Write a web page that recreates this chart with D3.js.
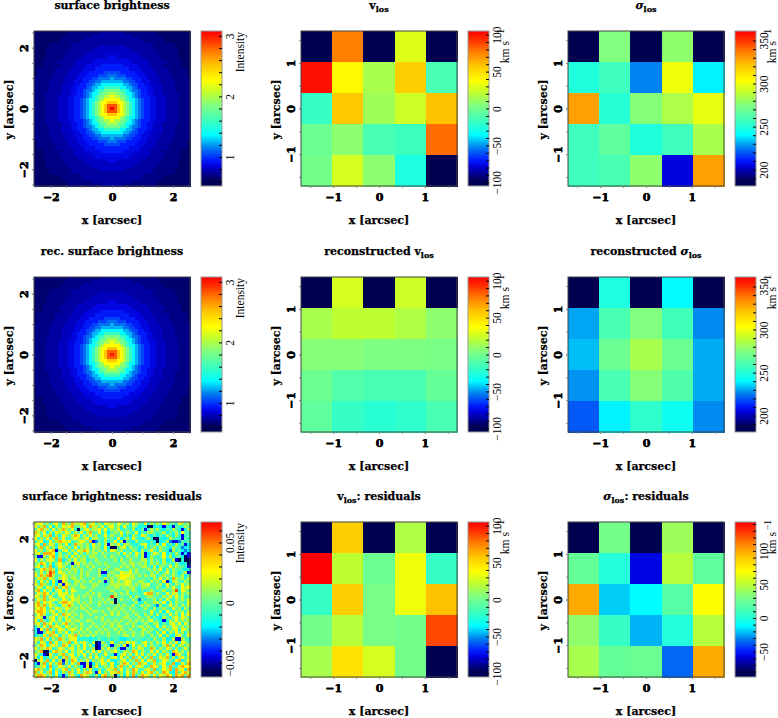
<!DOCTYPE html>
<meta charset="utf-8">
<style>
    body { margin: 0; background: #fff; }
    text { fill: #000; }
    .bold text, text.bold { font: bold 11px "DejaVu Serif"; stroke: #000; stroke-width: 0.25px; }
    .cbar text, text.cb { font: 11.5px "Liberation Serif"; }
</style>

<body>
    <script src="https://d3js.org/d3.v7.min.js"></script>
    <script>
        // 5x5 kinematic maps, top row first. null = no data, drawn in the lowest colour
        var vlos = [
            [null, 76, null, 29, null],
            [101, 40, 15, 55, -13],
            [-19, 57, 13, 25, 59],
            [-2, 8, -13, -17, 80],
            [0, 27, 8, -27, null]
        ]
        var sigma = [
            [null, 275, null, 278, null],
            [249, 257, 226, 300, 239],
            [329, 251, 276, 285, 298],
            [257, 266, 249, 257, 284],
            [257, 260, 278, 205, 329]
        ]
        var recVlos = [
            [null, 27, null, 25, null],
            [15, 21, 21, 17, 8],
            [6, 6, 4, 4, 2],
            [-2, -10, -13, -13, -4],
            [-6, -19, -23, -21, -13]
        ]
        var recSigma = [
            [null, 248, null, 240, null],
            [230, 260, 275, 258, 227],
            [233, 269, 284, 269, 231],
            [228, 260, 276, 262, 231],
            [220, 239, 253, 244, 227]
        ]
        var resVlos = [
            [null, 55, null, 17, null],
            [105, 21, -2, 34, -19],
            [-19, 55, 2, 34, 59],
            [0, 19, 2, 0, 88],
            [15, 48, 27, 0, null]
        ]
        var resSigma = [
            [null, 28, null, 41, null],
            [23, 0, -56, 48, 21],
            [99, -19, -12, 18, 69],
            [37, 7, -23, 0, 48],
            [44, 23, 25, -35, 99]
        ]

        // surface brightness, one quadrant (distance from centre row / column)
        var sbCodes = "abcdefghijklmnopq"
        var sbLevels = [3.08, 2.85, 2.5, 2.25, 2.0, 1.8, 1.58, 1.36, 1.24, 1.13, 1.04, 0.95, 0.88, 0.81, 0.75, 0.7, 0.65]
        var recSbLevels = [3.0, 2.82, 2.5, 2.27, 2.02, 1.8, 1.58, 1.36, 1.24, 1.12, 1.03, 0.94, 0.87, 0.8, 0.75, 0.7, 0.66]
        var sbRows = [
            "abcdefghijkllmmnnnoooopppp",
            "bbcdefghijkllmmnnnoooopppp",
            "ccddefghijkllmmnnnoooopppp",
            "dddefghhijkllmmnnnoooopppp",
            "deeffghijklllmmnnnoooopppp",
            "eeffghhijkllmmnnnooooopppp",
            "fffgghijjkllmmnnnooooppppp",
            "ggghhiijklllmmnnnooooppppp",
            "hhhhiijkkllmmnnnnooooppppp",
            "iiiijjkkllmmmnnnoooooppppp",
            "ijjjjkklllmmnnnnoooopppppp",
            "jjkkkllllmmmnnnooooopppppq",
            "kkklllllmmmnnnnooooppppppq",
            "llllllmmmmnnnnoooooppppppq",
            "llllmmmmmnnnnooooppppppqqq",
            "mmmmmmmnnnnnnooooopppppqqq",
            "mmmmmmnnnnnnoooooppppppqqq",
            "mmnnnnnnnnooooooppppppqqqq",
            "nnnnnnnnnoooooooppppppqqqq",
            "nnnnnnnoooooooopppppppqqqq",
            "nnnnnooooooooopppppppqqqqq",
            "oooooooooooooopppppppqqqqq",
            "ooooooooooopppppppqqqqqqqq",
            "oooooooooopppppppqqqqqqqqq",
            "ooooooopppppppppqqqqqqqqqq",
            "oooopppppppppppqqqqqqqqqqq"
        ]

        // surface brightness residuals, 51 rows of 51 cells, each digit an index into resLevels
        var resLevels = [-0.058, -0.044, -0.03, -0.02, -0.011, -0.001, 0.014, 0.026, 0.041, 0.056]
        var resRows = [
            "6775646758 6586678567 5647665765 6476547465 6576554765 6",
            "7568473657 6785567486 6574675647 5465343003 4314315446 5",
            "5786647568 6574056756 6757465745 5463451465 6435465413 6",
            "8657364765 7646574685 5746356574 6547354665 4563546475 4",
            "6757683647 6568746575 6457465564 5365476435 3546536414 5",
            "7465746857 5467656746 6546554735 6475435640 0434654415 4",
            "5673475687 6745676581 2546357461 5436454353 0346211254 5",
            "6748576465 7358665647 5646165746 6543567454 6473536451 3",
            "4685756376 5647465646 6547300567 4655346456 4654365423 4",
            "7564678156 7465768756 5656476564 5465364575 4654264532 3",
            "6758887364 5647564656 6465555647 5647561357 6473546413 1",
            "5116578465 6475656466 5556465554 6556461365 4574635530 1",
            "7465676483 5657566455 6555556465 5655566465 5463461040 0",
            "5687463675 6516756565 5656555556 5665656465 6465546434 0",
            "6746583576 5465655656 5555655565 6565566546 3654756554 1",
            "4578686465 6566565565 5656556655 5656555656 5746465543 4",
            "6574698476 5656465655 5611565576 6756555465 6457465356 1",
            "7586896557 6565565655 5643656677 7665656566 4565565463 5",
            "5768576467 6566565556 5556565677 6665555546 5756486564 6",
            "6475637417 6546656565 5651565656 7655665465 6471366546 5",
            "7586546361 7656565556 6554566666 7656566745 5647546575 6",
            "5764765857 8565566556 5555656656 5665466554 6546575476 7",
            "6847563674 6576555565 5555565555 6565454565 4564569476 5",
            "5768746576 7565555656 5655556565 6455457885 6547576465 6",
            "7658575467 5675656565 5655596555 5646545665 5465757564 5",
            "5768567657 6576655565 5565650565 5565254556 4647546565 6",
            "6857675468 8765656565 5656560555 5456346556 6573646554 7",
            "7868576547 6865565655 5655555656 5564565654 2645756465 6",
            "6787465765 7656566565 5555656565 5655456546 4565475636 5",
            "7887567465 6565555656 6565565656 5565555475 4637546564 6",
            "5786456758 6756565565 5556565655 6556546564 6454756475 7",
            "6761567465 7565565555 6565555556 6555655645 4365467576 5",
            "7485367564 6756655665 5565656565 5656565675 5414657565 6",
            "6758674657 8565565556 5556565655 6565456546 6354675747 5",
            "4657586764 7656565565 6565565665 5565665654 7465576565 6",
            "3175846576 5676565655 5656556565 5655466565 4656567476 5",
            "4115768465 7465656565 6565655656 5565565654 6473657564 6",
            "3547586746 5768565656 5555655556 6565565465 5746436754 7",
            "7685746586 5677444434 4544545433 4545544546 5463461165 4",
            "6476385746 6847567546 0165474565 7675467564 6574657476 5",
            "5687467658 7465647563 0156415647 1475657465 5468574665 6",
            "7566874576 5674657456 0165756411 5465764586 4657646457 5",
            "5680047865 7465674657 5756567546 6587465475 7465487564 6",
            "7541075468 5674657465 6457541467 5647574657 4657418754 7",
            "6373465746 8576546574 7565467475 6485746584 5768463675 6",
            "0675847461 6587465746 5675743567 4658574768 4576547835 7",
            "3168475682 6475811613 6576473568 7465867457 5674583475 8",
            "4567384576 5746531705 7456574685 5746764587 6475854787 7",
            "7865473657 8465746574 3645768574 6587456758 4576838674 8",
            "8574683746 5864756875 1746576864 7586475785 6587438578 6",
            "6887564731 4675387654 6378560463 7584687657 5768748785 8"
        ]

        // colour bars: value ranges, tick marks and labelled ticks
        var sbRange = [0.52, 3.08], sbTicks = d3.range(0.6, 3.01, 0.2), sbLabels = [1, 2, 3]
        var vRange = [-105, 105], vTicks = d3.range(-100, 101, 10), vLabels = [-100, -50, 0, 50, 100]
        var sigmaRange = [181, 361], sigmaTicks = d3.range(190, 351, 10), sigmaLabels = [200, 250, 300, 350]
        var resRange = [-0.062, 0.067], resTicks = d3.range(-0.06, 0.0601, 0.01), resBarLabels = [-0.05, 0, 0.05]
        var resSigmaRange = [-88, 143], resSigmaTicks = d3.range(-80, 141, 10), resSigmaLabels = [-50, 0, 50, 100]

        // pseudo-colour table
        var cmapT = [0, 0.04, 0.13, 0.17, 0.25, 0.33, 0.42, 0.52, 0.6, 0.68, 0.78, 0.87, 0.95, 1]
        var cmapC = ["#000050", "#00005a", "#0000dc", "#001eff", "#0082f0", "#00ffff", "#3cffbe", "#80ff80",
            "#beff32", "#ffff00", "#ffc300", "#ff7800", "#ff2800", "#ff0000"]
        var cmap = d3.scaleLinear().domain(cmapT).range(cmapC).clamp(true)

        var width = 778, height = 718
        var colLeft = [34, 301, 568], rowTop = [31, 277, 522]
        var pw = 156, ph = 155, barGap = 11, barW = 21

        var svg = d3.select("body").append("svg")
            .attr("width", width)
            .attr("height", height)
            .style("display", "block")

        var defs = svg.append("defs")

        function sbGrid(levels) {
            return d3.range(51).map(function (r) {
                return d3.range(51).map(function (c) {
                    var row = sbRows[Math.abs(r - 25)]
                    return levels[sbCodes.indexOf(row[Math.abs(c - 25)])]
                })
            })
        }

        var resGrid = resRows.map(function (s) {
            return s.replace(/ /g, "").split("").map(function (ch) { return resLevels[+ch] })
        })

        function fmt(d) {
            var a = +Math.abs(d).toFixed(2)
            return (d < -1e-9 ? "\u2212" : "") + a
        }

        // title parts: plain strings, or ["v"] / ["s"] for the v_los and sigma_los symbols
        var panels = [
            { col: 0, row: 0, grid: sbGrid(sbLevels), range: sbRange, ticks: sbTicks, labels: sbLabels, unit: "Intensity", title: ["surface brightness"] },
            { col: 1, row: 0, grid: vlos, range: vRange, ticks: vTicks, labels: vLabels, unit: "km", title: [["v"]] },
            { col: 2, row: 0, grid: sigma, range: sigmaRange, ticks: sigmaTicks, labels: sigmaLabels, unit: "km", title: [["s"]] },
            { col: 0, row: 1, grid: sbGrid(recSbLevels), range: sbRange, ticks: sbTicks, labels: sbLabels, unit: "Intensity", title: ["rec. surface brightness"] },
            { col: 1, row: 1, grid: recVlos, range: vRange, ticks: vTicks, labels: vLabels, unit: "km", title: ["reconstructed ", ["v"]] },
            { col: 2, row: 1, grid: recSigma, range: sigmaRange, ticks: sigmaTicks, labels: sigmaLabels, unit: "km", title: ["reconstructed ", ["s"]] },
            { col: 0, row: 2, grid: resGrid, range: resRange, ticks: resTicks, labels: resBarLabels, unit: "Intensity", title: ["surface brightness: residuals"] },
            { col: 1, row: 2, grid: resVlos, range: vRange, ticks: vTicks, labels: vLabels, unit: "km", title: [["v"], ": residuals"] },
            { col: 2, row: 2, grid: resSigma, range: resSigmaRange, ticks: resSigmaTicks, labels: resSigmaLabels, unit: "km", title: [["s"], ": residuals"] }
        ]

        panels.forEach(function (p, i) {
            var n = p.grid.length
            var ext = n > 5 ? 2.55 : 1.7
            var tickVals = n > 5 ? [-2, 0, 2] : [-1, 0, 1]
            var minor = n > 5 ? d3.range(-2.5, 2.51, 0.5) : d3.range(-1.5, 1.51, 0.5)

            var g = svg.append("g")
                .attr("transform", "translate(" + colLeft[p.col] + "," + rowTop[p.row] + ")")

            var x = d3.scaleLinear().domain([-ext, ext]).range([0, pw])
            var y = d3.scaleLinear().domain([-ext, ext]).range([ph, 0])
            var bx = d3.scaleBand().domain(d3.range(n)).range([0, pw])
            var by = d3.scaleBand().domain(d3.range(n)).range([0, ph])
            var tscale = d3.scaleLinear().domain(p.range).range([0, 1]).clamp(true)
            var color = function (v) { return cmap(v === null ? 0 : tscale(v)) }

            var cells = []
            p.grid.forEach(function (row, r) {
                row.forEach(function (v, c) { cells.push({ r: r, c: c, v: v }) })
            })

            g.selectAll("rect.cell")
                .data(cells)
                .enter().append("rect")
                .attr("class", "cell")
                .attr("x", function (d) { return bx(d.c) })
                .attr("y", function (d) { return by(d.r) })
                .attr("width", bx.bandwidth() + 0.5)
                .attr("height", by.bandwidth() + 0.5)
                .attr("fill", function (d) { return color(d.v) })
                .attr("shape-rendering", "crispEdges")

            g.append("rect")
                .attr("width", pw).attr("height", ph)
                .attr("fill", "none")
                .attr("stroke", "#444")

            // axes, labelled ticks only carry text
            var xAxis = d3.axisBottom(x).tickValues(minor.concat(tickVals)).tickSize(2).tickPadding(6)
                .tickFormat(function (d) { return tickVals.indexOf(d) >= 0 ? fmt(d) : "" })
            var gx = g.append("g").attr("class", "bold").attr("transform", "translate(0," + ph + ")").call(xAxis)
            gx.select(".domain").remove()
            gx.selectAll("line").attr("stroke", "#888")
            gx.selectAll("text").attr("y", 15).attr("dy", 0)

            var yAxis = d3.axisLeft(y).tickValues(minor.concat(tickVals)).tickSize(2)
                .tickFormat(function (d) { return tickVals.indexOf(d) >= 0 ? fmt(d) : "" })
            var gy = g.append("g").attr("class", "bold").call(yAxis)
            gy.select(".domain").remove()
            gy.selectAll("line").attr("stroke", "#888")
            gy.selectAll("text")
                .attr("x", 0).attr("dy", 0)
                .attr("text-anchor", "middle")
                .attr("transform", "translate(-6,0) rotate(-90)")

            g.append("text").attr("class", "bold")
                .attr("x", pw / 2).attr("y", ph + 38)
                .attr("text-anchor", "middle")
                .text("x [arcsec]")

            g.append("text").attr("class", "bold")
                .attr("transform", "translate(-21," + (ph / 2 + 1) + ") rotate(-90)")
                .attr("text-anchor", "middle")
                .text("y [arcsec]")

            // title
            var title = g.append("text").attr("class", "bold")
                .attr("x", pw / 2).attr("y", -22)
                .attr("text-anchor", "middle")
            var shifted = false
            p.title.forEach(function (part) {
                if (typeof part === "string") {
                    title.append("tspan").attr("dy", shifted ? -3 : null).text(part)
                    shifted = false
                } else {
                    var sym = title.append("tspan")
                    if (part[0] === "s") sym.style("font-style", "italic").text("\u03c3")
                    else sym.text("v")
                    title.append("tspan").attr("dy", 3).style("font-size", "8px").text("los")
                    shifted = true
                }
            })

            // colour bar
            var bar = g.append("g").attr("class", "cbar").attr("transform", "translate(" + (pw + barGap) + ",0)")
            var gradId = "cb" + i
            var grad = defs.append("linearGradient").attr("id", gradId)
                .attr("x1", 0).attr("y1", 1).attr("x2", 0).attr("y2", 0)
            cmapT.forEach(function (t, k) {
                grad.append("stop").attr("offset", t).attr("stop-color", cmapC[k])
            })
            bar.append("rect").attr("width", barW).attr("height", ph)
                .attr("fill", "url(#" + gradId + ")")
                .attr("stroke", "#999")

            var by2 = d3.scaleLinear().domain(p.range).range([ph, 0])
            var isLabel = function (d) {
                return p.labels.some(function (l) { return Math.abs(l - d) < 1e-6 })
            }
            var barAxis = d3.axisRight(by2).tickValues(p.ticks).tickSize(-3)
                .tickFormat(function (d) { return isLabel(d) ? fmt(d) : "" })
            var ga = bar.append("g").attr("transform", "translate(" + barW + ",0)").call(barAxis)
            ga.select(".domain").remove()
            ga.selectAll("text")
                .attr("x", 0).attr("dy", 0)
                .attr("text-anchor", "middle")
                .attr("transform", "translate(12,0) rotate(-90)")

            var unit = bar.append("text").attr("class", "cb")
                .attr("text-anchor", "end")
                .attr("transform", "translate(" + (barW + 22) + ",1) rotate(-90)")
            if (p.unit === "km") {
                unit.attr("transform", "translate(" + (barW + 20) + ",-2) rotate(-90)")
                unit.append("tspan").text("km s")
                unit.append("tspan").attr("dy", -5).attr("dx", 2).style("font-size", "9.5px").text("\u22121")
            } else {
                unit.text(p.unit)
            }
        })
    </script>
</body>
